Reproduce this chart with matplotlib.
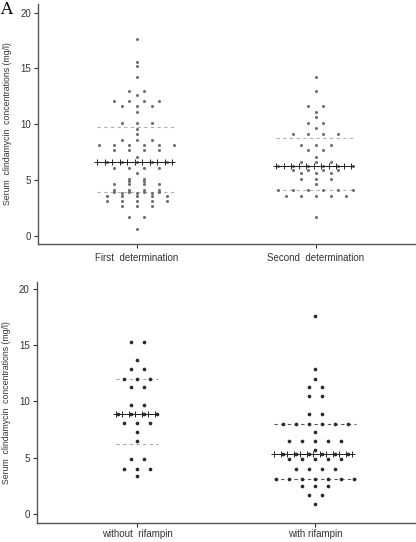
import numpy as np
import matplotlib
matplotlib.use('Agg')
from matplotlib import pyplot as plt

# data (mg/l), repeated values = dots on the same row
first_det = [17.6, 15.6, 15.2, 14.2, 13.0, 13.0, 12.65, 12.1, 12.1, 12.1, 12.1,
             11.6, 11.6, 11.6, 11.1, 10.1, 10.1, 10.1, 9.6, 9.15, 8.6, 8.6, 8.6,
             8.1, 8.1, 8.1, 8.1, 8.1, 8.1, 7.65, 7.65, 7.65, 7.65, 7.1,
             6.6, 6.6, 6.6, 6.6, 6.6, 6.1, 6.1, 6.1, 6.1, 5.65, 5.1, 5.1,
             4.9, 4.9, 4.65, 4.65, 4.65, 4.65, 4.15, 4.15, 4.15, 4.15,
             3.95, 3.95, 3.95, 3.95, 3.8, 3.8, 3.8, 3.6, 3.6, 3.6, 3.6, 3.6,
             3.15, 3.15, 3.15, 3.15, 3.15, 2.65, 2.65, 2.65, 1.65, 1.65, 0.63]
second_det = [14.2, 13.0, 11.6, 11.6, 11.1, 10.65, 10.1, 10.1, 9.65,
              9.15, 9.15, 9.15, 9.15, 8.1, 8.1, 8.1, 7.65, 7.65, 7.1,
              6.6, 6.6, 6.6, 6.25, 6.25, 6.25, 6.25, 6.25, 6.25,
              5.9, 5.9, 5.9, 5.9, 5.6, 5.6, 5.6, 5.1, 5.1, 5.1, 4.65,
              4.1, 4.1, 4.1, 4.1, 4.1, 4.1, 3.6, 3.6, 3.6, 3.6, 3.6, 1.65]
without_rif = [15.3, 15.3, 13.7, 12.85, 12.85, 12.0, 12.0, 12.0, 11.3, 11.3,
               9.65, 9.65, 8.85, 8.85, 8.85, 8.85, 8.05, 8.05, 8.05, 7.3, 6.5,
               4.9, 4.9, 4.0, 4.0, 4.0, 3.35]
with_rif = [17.6, 12.85, 12.0, 11.3, 11.3, 10.45, 10.45, 8.85, 8.85,
            8.0, 8.0, 8.0, 8.0, 8.0, 8.0, 7.25, 6.5, 6.5, 6.5, 6.5, 6.5, 5.7,
            5.3, 5.3, 5.3, 5.3, 5.3, 5.3, 4.85, 4.85, 4.85, 4.85, 4.85,
            4.0, 4.0, 4.0, 4.0, 3.15, 3.15, 3.15, 3.15, 3.15, 3.15, 3.15,
            2.5, 2.5, 2.5, 1.7, 1.7, 0.85]

top_labels = ['First  determination', 'Second  determination']
bottom_labels = ['without  rifampin', 'with rifampin']

# median and dashed lines
top_mid = [6.6, 6.25]
top_hi = [9.75, 8.8]
top_lo = [3.9, 4.1]
bot_mid = [8.85, 5.3]
bot_hi = [12.0, 8.0]
bot_lo = [6.2, 3.15]

plt.rcParams['font.family'] = ['Liberation Sans', 'DejaVu Sans']

fig = plt.figure(figsize=(4.16, 5.42), dpi=100)
ax1 = fig.add_axes([0.0913, 0.5493, 0.9087, 0.4439])
ax2 = fig.add_axes([0.0882, 0.0351, 0.9118, 0.4452])


def swarm(vals, step):
    vals = np.array(vals)
    xs = np.zeros(len(vals))
    for v in np.unique(vals):
        idx = np.where(vals == v)[0]
        n = len(idx)
        xs[idx] = (np.arange(n) - (n - 1) / 2) * step
    return xs


def dotplot(ax, groups, mids, his, los, step, dot_col, dash_cols, s):
    for i, g in enumerate(groups):
        c = i + 1
        off = swarm(g, step)
        nmax = max(list(g).count(v) for v in set(g))
        span = (nmax - 1) / 2 * step + step * 0.15
        ax.plot([c - span, c + span], [his[i]] * 2, ls=(0, (3, 3)),
                color=dash_cols[i], lw=0.8, zorder=1)
        ax.plot([c - span, c + span], [los[i]] * 2, ls=(0, (3, 3)),
                color=dash_cols[i], lw=0.8, zorder=1)
        ax.scatter(c + off, g, s=s, color=dot_col, lw=0, zorder=2)
        xs = np.arange(c - span, c + span + 1e-9, step / 2)
        ax.plot(xs, [mids[i]] * len(xs), color='#222222', lw=0.7,
                marker='+', ms=4, mew=0.7, zorder=3)


dotplot(ax1, [first_det, second_det], top_mid, top_hi, top_lo, 0.0838,
        '#707070', ['#b0b0b0', '#b0b0b0'], 5)
dotplot(ax2, [without_rif, with_rif], bot_mid, bot_hi, bot_lo, 0.073,
        '#2a2a2a', ['#a8a8a8', '#555555'], 7)

for ax, labels, xl, yl, xpad in [(ax1, top_labels, (0.447, 2.559), (-0.75, 20.8), 3.5),
                                 (ax2, bottom_labels, (0.4365, 2.567), (-0.8, 20.65), 1.5)]:
    ax.set_xlim(*xl)
    ax.set_ylim(*yl)
    ax.set_xticks([1, 2])
    ax.set_xticklabels(labels, fontsize=7)
    ax.set_yticks([0, 5, 10, 15, 20])
    ax.tick_params(axis='y', labelsize=7, length=3, width=0.8, colors='#333333', pad=2)
    ax.tick_params(axis='x', length=3, width=0.8, colors='#333333', pad=xpad)
    for sp in ['top', 'right']:
        ax.spines[sp].set_visible(False)
    for sp in ['left', 'bottom']:
        ax.spines[sp].set_color('#555555')
        ax.spines[sp].set_linewidth(1.0)
    ax.set_ylabel('Serum  clindamycin  concentrations (mg/l)', fontsize=6.3,
                  color='#333333', labelpad=6)

fig.text(0.0, 0.999, 'A', family='DejaVu Serif', fontsize=12, va='top', ha='left')

fig.savefig('out.png', dpi=100)
